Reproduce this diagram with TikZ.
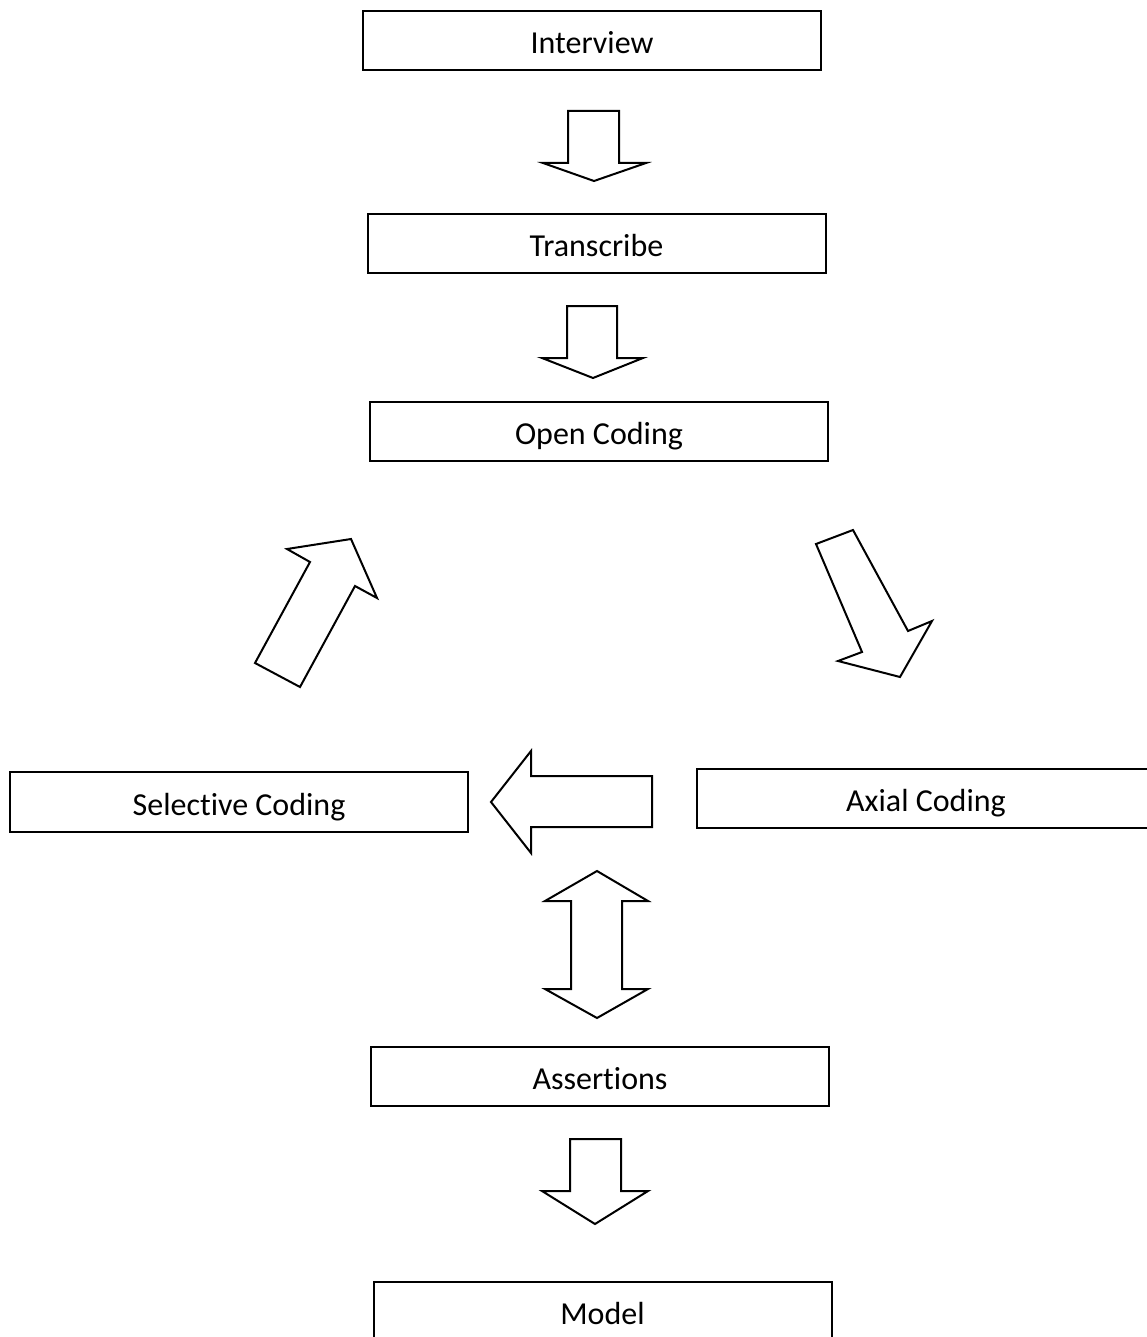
\documentclass[tikz,border=0pt]{standalone}
\usepackage{fontspec}
\setmainfont[Ligatures={NoCommon}]{Carlito}
\begin{document}
\begin{tikzpicture}[x=1pt,y=-1pt,
  stagebox/.style={draw=black,line width=2pt,fill=white,inner sep=0pt,
    minimum width=458pt,minimum height=59pt,text height=32pt,text depth=6pt,
    font=\fontsize{32}{38}\selectfont},
  blockarrow/.style={draw=black,line width=2pt,line join=miter,fill=white}]
\useasboundingbox (0,0) rectangle (1147,1337);
\fill[white] (0,0) rectangle (1147,1337);
% boxes
\node[stagebox] (interview) at (592,41) {Interview};
\node[stagebox] (transcribe) at (596.5,243.5) {Transcribe};
\node[stagebox] (open) at (599,431) {Open Coding};
\node[stagebox,minimum height=60pt] (selective) at (239,802) {Selective Coding};
\node[stagebox] (axial) at (926,798) {Axial Coding};
\node[stagebox] (assertions) at (600,1076.5) {Assertions};
\node[stagebox] (model) at (602.5,1311) {Model};
% block arrows
\draw[blockarrow] (568,111) -- (619,111) -- (619,163) -- (646,163) -- (594,181) -- (543,163) -- (568,163) -- cycle;
\draw[blockarrow] (567,306) -- (617,306) -- (617,358) -- (643,358) -- (593,378) -- (542,358) -- (567,358) -- cycle;
\draw[blockarrow] (255,663) -- (310,562) -- (287,549) -- (351,539) -- (377,598) -- (355,586) -- (300,687) -- cycle;
\draw[blockarrow] (816,544) -- (853,530) -- (908,631) -- (932,621) -- (900,677) -- (838,661) -- (862,652) -- cycle;
\draw[blockarrow] (491,802) -- (531,751) -- (531,776) -- (652,776) -- (652,827) -- (531,827) -- (531,853) -- cycle;
\draw[blockarrow] (597,871) -- (648,901) -- (622,901) -- (622,989) -- (648,989) -- (597,1018) -- (545,989) -- (571,989) -- (571,901) -- (545,901) -- cycle;
\draw[blockarrow] (570,1139) -- (621,1139) -- (621,1191) -- (648,1191) -- (595,1224) -- (542,1191) -- (570,1191) -- cycle;
\end{tikzpicture}
\end{document}
